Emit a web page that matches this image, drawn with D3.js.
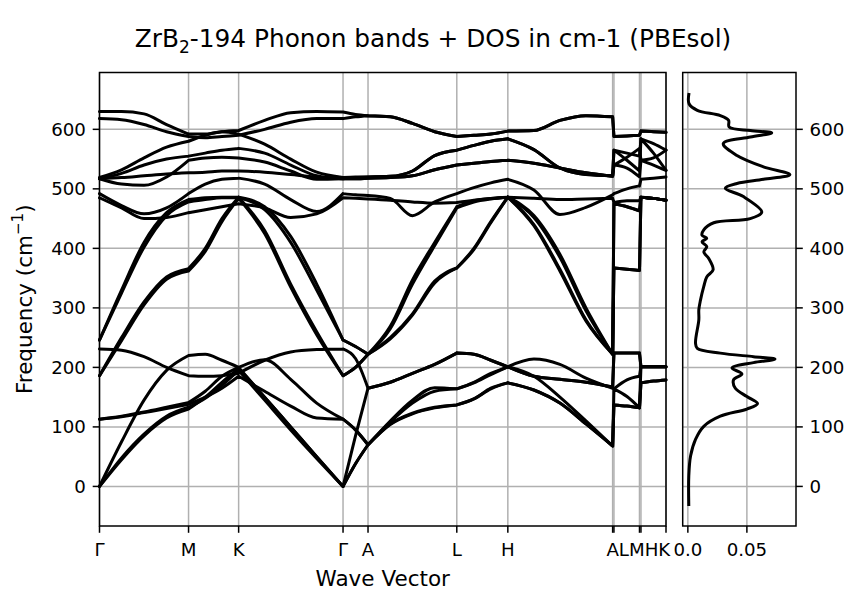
<!DOCTYPE html>
<html>
<head>
<meta charset="utf-8">
<script src="https://cdn.jsdelivr.net/npm/d3@7"></script>
<style>
  body { margin: 0; background: #fff; }
  text { font-family: "DejaVu Sans", sans-serif; fill: #000; }
</style>
</head>
<body>
<svg id="chart" width="856" height="592"></svg>
<script>
// ---- data ----
// high symmetry points along the path (path length, fraction of total)
const kLabels = ["Γ", "M", "K", "Γ", "A", "L", "H", "A", "L", "M", "H", "K"];
const kTicks  = [0, 0.1572, 0.2456, 0.4299, 0.4740, 0.6307, 0.7208, 0.9058, 0.9081, 0.9532, 0.9558, 1.0];

// sampled k positions, same scale as kTicks
const kPath = [0, 0.0389, 0.0786, 0.1184, 0.1572, 0.1867, 0.2161, 0.2456, 0.2915, 0.3375, 0.3834, 0.4299,
               0.4519, 0.4740,
               0.5133, 0.5525, 0.5917, 0.6307, 0.6608, 0.6908, 0.7208, 0.7668, 0.8127, 0.8587, 0.9058,
               0.9081, 0.9311, 0.9532,
               0.9558, 0.9779, 1.0];
// indices in kPath where a path segment starts / ends
const segBreaks = [0, 4, 7, 11, 13, 17, 20, 24, 25, 27, 28, 30];

// phonon frequencies (cm-1) read at kPath, one array per band
const band1  = [0,75,145,195,220,222,212,200,150,100,50,0, 85,165, 175,190,205,224,222,212,201,185,180,175,167, 224,224,224, 201,201,201];
const band2  = [0,45,85,115,130,150,175,198,150,100,50,0, 38,70, 105,123,133,137,147,165,174,162,140,105,68, 137,135,132, 174,177,179];
const band3  = [0,48,88,118,133,148,170,195,145,95,47,0, 38,70, 104,122,132,137,147,164,174,162,140,105,68, 137,135,132, 174,177,179];
const band4  = [113,118,125,133,141,160,185,200,213,180,140,113, 95,70, 110,145,166,164,175,190,201,214,205,182,165, 164,179,185, 201,201,201];
const band5  = [113,117,124,131,138,150,165,185,160,135,115,113, 95,70, 108,140,160,164,174,188,201,185,150,110,68, 164,151,132, 201,201,201];
const band6  = [186,250,310,352,366,400,450,486,430,340,260,186, 200,222, 250,290,345,367,400,445,486,440,365,280,222, 367,365,363, 486,484,481];
const band7  = [186,245,305,348,362,395,445,484,425,335,255,186, 200,222, 248,288,342,367,398,443,486,438,362,278,222, 367,365,363, 486,484,481];
const band8  = [231,229,218,200,186,185,186,190,212,226,230,231, 215,165, 175,190,205,224,222,212,201,185,180,175,167, 224,224,224, 201,201,201];
const band9  = [246,330,410,460,482,485,486,486,470,420,340,246, 235,222, 269,347,410,470,480,484,486,455,390,300,222, 475,470,463, 486,484,481];
const band10 = [246,325,402,455,478,482,485,485,465,410,330,246, 235,222, 265,340,405,468,478,483,486,452,385,295,222, 475,470,463, 486,484,481];
const band11 = [485,468,450,452,460,465,470,475,468,452,458,485, 484,483, 481,478,476,477,481,484,486,484,482,483,484, 477,480,480, 486,484,481];
const band12 = [492,472,458,468,492,508,516,518,508,482,462,492, 490,489, 484,455,478,492,502,510,516,498,457,469,490, 492,500,505, 516,518,520];
const band13 = [517,519,522,525,527,528,530,530,528,524,520,517, 517,518, 519,522,532,540,543,546,548,543,535,527,521, 540,535,520, 548,540,531];
const band14 = [517,508,506,520,548,552,553,552,545,530,516,517, 517,518, 519,522,532,540,543,546,548,543,535,527,521, 540,553,568, 548,552,565];
const band15 = [517,526,540,550,555,560,565,568,560,540,522,517, 519,520, 521,530,556,565,573,580,584,566,535,524,522, 565,548,530, 584,560,531];
const band16 = [519,532,552,570,580,590,596,592,575,550,528,519, 520,520, 521,530,556,565,573,580,584,566,535,524,522, 565,560,555, 584,576,565];
const band17 = [618,616,608,596,588,586,588,590,600,612,618,618, 621,623, 621,610,596,588,590,592,597,598,615,623,621, 588,589,590, 597,596,595];
const band18 = [630,630,626,608,592,592,596,598,615,628,630,629, 625,623, 621,610,596,588,590,592,597,598,615,623,621, 588,589,590, 597,596,595];
const bands = [band1, band2, band3, band4, band5, band6, band7, band8, band9,
               band10, band11, band12, band13, band14, band15, band16, band17, band18];

// density of states: frequency (cm-1) and DOS value
const dosFreq = [661,643,632,623,615,604,598,594,587,576,556,537,524,516,509,501,487,461,450,443,
                 431,422,417,411,403,394,383,364,352,336,313,297,280,241,232,224,218,214,208,199,
                 189,179,165,151,139,130,118,101,79,51,17,-33];
const dosVal  = [0.001,0.001,0.008,0.0275,0.0345,0.035,0.053,0.071,0.053,0.030,0.0416,0.064,0.0864,0.064,0.0416,0.0317,0.047,0.0626,0.0528,0.0219,
                 0.0135,0.012,0.016,0.012,0.016,0.0135,0.0177,0.0214,0.016,0.0135,0.0107,0.0093,0.0093,0.0065,0.008,0.0275,0.0556,0.0738,0.0556,0.0374,
                 0.0458,0.0387,0.0402,0.05,0.059,0.05,0.0275,0.0135,0.0065,0.0023,0.0008,0.0008];

const freqTicks = [0, 100, 200, 300, 400, 500, 600];
const dosTicks = [0, 0.05];
const dosTickLabels = ["0.0", "0.05"];

// ---- layout ----
const plotTop = 72.5, plotBottom = 526;
const bandL = 99.5, bandR = 666;
const dosL = 682.7, dosR = 796;
const gridCol = "#b0b0b0";
const tickLen = 6.8, pad = 6.8, fs = 18.2, fsLab = 21.5;

const svg = d3.select("#chart");

const x = d3.scaleLinear().domain([0, 1]).range([bandL, bandR]);
const y = d3.scaleLinear().domain([-66.5, 695.5]).range([plotBottom, plotTop]);
const xd = d3.scaleLinear().domain([-0.00436, 0.0916]).range([dosL, dosR]);

/* grids */
const g1 = svg.append("g").attr("stroke", gridCol).attr("stroke-width", 1.5);
g1.selectAll(".hg").data(freqTicks).enter().append("line")
  .attr("x1", bandL).attr("x2", bandR).attr("y1", d => y(d)).attr("y2", d => y(d));
g1.selectAll(".vg").data(kTicks).enter().append("line")
  .attr("x1", d => x(d)).attr("x2", d => x(d)).attr("y1", plotTop).attr("y2", plotBottom);
g1.selectAll(".hg2").data(freqTicks).enter().append("line")
  .attr("x1", dosL).attr("x2", dosR).attr("y1", d => y(d)).attr("y2", d => y(d));
g1.selectAll(".vg2").data(dosTicks).enter().append("line")
  .attr("x1", d => xd(d)).attr("x2", d => xd(d)).attr("y1", plotTop).attr("y2", plotBottom);

/* bands */
const lineGen = d3.line().x(d => x(d[0])).y(d => y(d[1])).curve(d3.curveMonotoneX);
function bandPath(vals) {
  let p = "";
  for (let s = 0; s < segBreaks.length - 1; s++) {
    const pts = d3.range(segBreaks[s], segBreaks[s + 1] + 1).map(i => [kPath[i], vals[i]]);
    p += lineGen(pts);
  }
  return p;
}
svg.append("g")
  .attr("fill", "none").attr("stroke", "#000").attr("stroke-width", 3)
  .attr("stroke-linecap", "round").attr("stroke-linejoin", "round")
  .selectAll("path").data(bands).enter().append("path")
  .attr("d", d => bandPath(d));

/* dos */
const dosPts = dosFreq.map((f, i) => [f, dosVal[i]]);
svg.append("path")
  .attr("d", d3.line().x(d => xd(d[1])).y(d => y(d[0])).curve(d3.curveCatmullRom.alpha(0.5))(dosPts))
  .attr("fill", "none").attr("stroke", "#000").attr("stroke-width", 3)
  .attr("stroke-linejoin", "round");

/* frames */
[[bandL, bandR], [dosL, dosR]].forEach(([a, b]) => {
  svg.append("rect").attr("x", a).attr("y", plotTop).attr("width", b - a).attr("height", plotBottom - plotTop)
    .attr("fill", "none").attr("stroke", "#000").attr("stroke-width", 1.5);
});

/* ticks */
const ax = svg.append("g").attr("stroke", "#000").attr("stroke-width", 1.5);
ax.selectAll(".yt").data(freqTicks).enter().append("line")
  .attr("x1", bandL - tickLen).attr("x2", bandL).attr("y1", d => y(d)).attr("y2", d => y(d));
ax.selectAll(".yt2").data(freqTicks).enter().append("line")
  .attr("x1", dosR).attr("x2", dosR + tickLen).attr("y1", d => y(d)).attr("y2", d => y(d));
ax.selectAll(".xt").data(kTicks).enter().append("line")
  .attr("x1", d => x(d)).attr("x2", d => x(d)).attr("y1", plotBottom).attr("y2", plotBottom + tickLen);
ax.selectAll(".xt2").data(dosTicks).enter().append("line")
  .attr("x1", d => xd(d)).attr("x2", d => xd(d)).attr("y1", plotBottom).attr("y2", plotBottom + tickLen);

/* tick labels */
svg.selectAll(".yl").data(freqTicks).enter().append("text")
  .attr("x", bandL - tickLen - pad).attr("y", d => y(d)).attr("dy", "0.36em")
  .attr("text-anchor", "end").style("font-size", fs + "px").text(d => d);
svg.selectAll(".yl2").data(freqTicks).enter().append("text")
  .attr("x", dosR + tickLen + pad).attr("y", d => y(d)).attr("dy", "0.36em")
  .attr("text-anchor", "start").style("font-size", fs + "px").text(d => d);

// crowded k labels at the end of the path (A|L, M|H, K) are set as one word
function textW(s) {
  const t = svg.append("text").style("font-size", fs + "px").text(s);
  const w = t.node().getComputedTextLength();
  t.remove();
  return w;
}
const kGroups = [];
kTicks.forEach((t, i) => {
  const last = kGroups[kGroups.length - 1];
  if (last) {
    const lastEnd = x(last.pos[0]) - textW(last.text[0]) / 2 + textW(last.text);
    const start = x(t) - textW(kLabels[i]) / 2;
    if (start - lastEnd < 10) { last.pos.push(t); last.text += kLabels[i]; return; }
  }
  kGroups.push({ pos: [t], text: kLabels[i] });
});
const labY = 556;
svg.selectAll(".kl").data(kGroups).enter().append("text")
  .attr("x", d => x(d.pos[0]) - textW(d.text[0]) / 2)
  .attr("y", labY).attr("text-anchor", "start").style("font-size", fs + "px").text(d => d.text);
svg.selectAll(".dl").data(dosTicks).enter().append("text")
  .attr("x", d => xd(d)).attr("y", labY).attr("text-anchor", "middle")
  .style("font-size", fs + "px").text((d, i) => dosTickLabels[i]);

/* axis labels */
svg.append("text").attr("x", (bandL + bandR) / 2).attr("y", 586).attr("text-anchor", "middle")
  .style("font-size", fsLab + "px").text("Wave Vector");

const yl = svg.append("text")
  .attr("transform", `translate(32,${(plotTop + plotBottom) / 2}) rotate(-90)`)
  .attr("text-anchor", "middle").style("font-size", fsLab + "px");
yl.append("tspan").text("Frequency (cm");
yl.append("tspan").attr("dy", -9).style("font-size", "15px").text("−1");
yl.append("tspan").attr("dy", 9).text(")");

/* title */
const tt = svg.append("text").attr("x", 433).attr("y", 47).attr("text-anchor", "middle")
  .style("font-size", "24.8px");
tt.append("tspan").text("ZrB");
tt.append("tspan").attr("dy", 6).style("font-size", "17px").text("2");
tt.append("tspan").attr("dy", -6).text("-194 Phonon bands + DOS in cm-1 (PBEsol)");
</script>
</body>
</html>
